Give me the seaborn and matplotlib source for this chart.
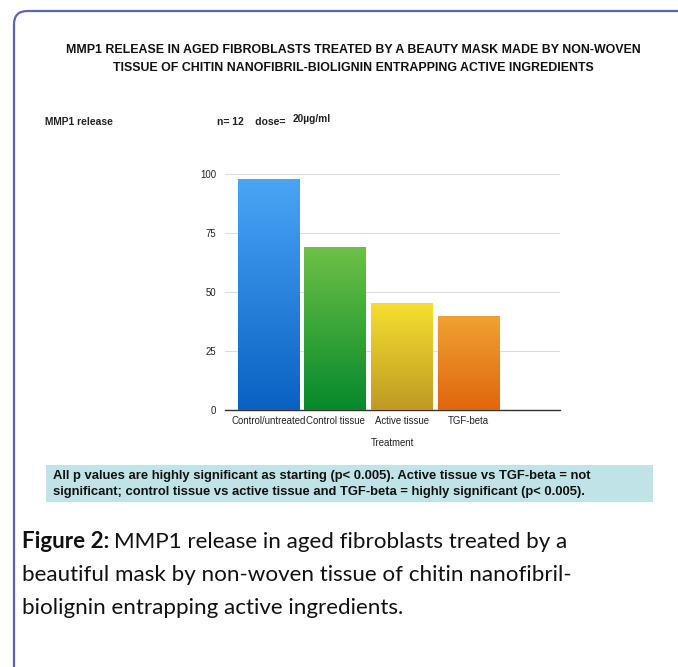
import numpy as np
import pandas as pd
import matplotlib.pyplot as plt
import seaborn as sns
from matplotlib.patches import FancyBboxPatch, Rectangle
from matplotlib.colors import LinearSegmentedColormap

# data
treatments = ["Control/untreated", "Control tissue", "Active tissue", "TGF-beta"]
mmp1 = [98, 69, 45.3, 40]
yticks = [0, 25, 50, 75, 100]
# top / bottom colours of each gradient bar
tops = ["#4ba5f6", "#6fc046", "#f6df32", "#f0a232"]
bottoms = ["#0961c2", "#05892d", "#be9a22", "#e0660d"]

df = pd.DataFrame({"Treatment": treatments, "MMP1": mmp1})

sns.set_style("white")
arial = ["Liberation Sans", "DejaVu Sans"]
plt.rcParams["font.family"] = arial

W, H = 678, 667
fig = plt.figure(figsize=(W / 100, H / 100), dpi=100)

# frame with rounded corner
fig.patches.append(FancyBboxPatch((14 / W, -0.1), 1.2, (H - 11) / H + 0.1,
                                  boxstyle="round,pad=0,rounding_size=0.02",
                                  transform=fig.transFigure, fill=False,
                                  ec="#5a66b2", lw=1.6))

# axes: x from 225 to 560 px, y 0 at 410 px, 100 at 174 px
ax_left, ax_right = 225, 560
y0, y100 = 410, 174
ymax = 104
top_px = y0 - (y0 - y100) * ymax / 100
ax = fig.add_axes([ax_left / W, 1 - y0 / H, (ax_right - ax_left) / W, (y0 - top_px) / H])

sns.barplot(data=df, x="Treatment", y="MMP1", ax=ax, color="white", width=0.92,
            saturation=1)
ax.set_yticks(yticks)
ax.yaxis.grid(True, color="#dddddd", lw=0.8)
ax.set_axisbelow(True)
for s in ["top", "right", "left"]:
    ax.spines[s].set_visible(False)
ax.spines["bottom"].set_color("#333333")
ax.spines["bottom"].set_linewidth(1.0)
ax.tick_params(axis="both", length=0, labelsize=6.9, colors="#222222")
ax.tick_params(axis="y", pad=6.5)
ax.tick_params(axis="x", pad=4)
ax.set_ylabel("")
ax.set_xlabel("Treatment", fontsize=6.9, color="#222222", labelpad=9)

# gradient fill in each bar
for bar, c1, c2 in zip(ax.patches, tops, bottoms):
    x, w, h = bar.get_x(), bar.get_width(), bar.get_height()
    cmap = LinearSegmentedColormap.from_list("g", [c2, c1])
    grad = np.linspace(0, 1, 256).reshape(-1, 1)
    im = ax.imshow(grad, cmap=cmap, aspect="auto", origin="lower",
                   extent=[x, x + w, 0, h], zorder=3)
    im.set_clip_path(bar)
    bar.set_edgecolor("none")
ax.set_xlim(-0.65, 4.37)
ax.set_ylim(0, ymax)

# titles
fig.text(353 / W, 1 - 50 / H,
         "MMP1 RELEASE IN AGED FIBROBLASTS TREATED BY A BEAUTY MASK MADE BY NON-WOVEN",
         ha="center", va="center", fontsize=8.9, fontweight="bold", color="#111111")
fig.text(353 / W, 1 - 68 / H,
         "TISSUE OF CHITIN NANOFIBRIL-BIOLIGNIN ENTRAPPING ACTIVE INGREDIENTS",
         ha="center", va="center", fontsize=8.9, fontweight="bold", color="#111111")
fig.text(45 / W, 1 - 122 / H, "MMP1 release", ha="left", va="center",
         fontsize=7.4, fontweight="bold", color="#222222")
fig.text(217 / W, 1 - 122 / H, "n= 12    dose=", ha="left", va="center",
         fontsize=7.5, fontweight="bold", color="#222222")
fig.text(293 / W, 1 - 119 / H, "20µg/ml", ha="left", va="center",
         fontsize=7.3, fontweight="bold", color="#222222")

# p-value note box
fig.patches.append(Rectangle((46 / W, 1 - 502 / H), (653 - 46) / W, 37 / H,
                             transform=fig.transFigure, fc="#bfe3e6", ec="none"))
fig.text(53 / W, 1 - 476 / H,
         "All p values are highly significant as starting (p< 0.005). Active tissue vs TGF-beta = not",
         ha="left", va="center", fontsize=9.35, fontweight="bold", color="#111111")
fig.text(53 / W, 1 - 492 / H,
         "significant; control tissue vs active tissue and TGF-beta = highly significant (p< 0.005).",
         ha="left", va="center", fontsize=9.35, fontweight="bold", color="#111111")

# caption
cap = ["Lato", "DejaVu Sans"]
t = fig.text(22 / W, 1 - 542 / H, "Figure 2:", ha="left", va="center",
             fontsize=16.1, fontweight="bold", family=cap, color="#111111")
fig.canvas.draw()
bb = t.get_window_extent()
fig.text(bb.x1 / W + 5 / W, 1 - 542 / H, "MMP1 release in aged fibroblasts treated by a",
         ha="left", va="center", fontsize=16.1, family=cap, color="#111111")
fig.text(22 / W, 1 - 575 / H, "beautiful mask by non-woven tissue of chitin nanofibril-",
         ha="left", va="center", fontsize=16.1, family=cap, color="#111111")
fig.text(22 / W, 1 - 608 / H, "biolignin entrapping active ingredients.",
         ha="left", va="center", fontsize=16.1, family=cap, color="#111111")

fig.savefig("out.png", dpi=100)
